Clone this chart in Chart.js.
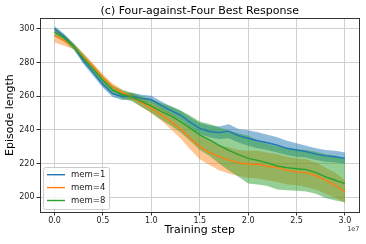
<!DOCTYPE html>
<html>
<head>
<meta charset="utf-8">
<script src="https://cdn.jsdelivr.net/npm/chart.js@4.4.1/dist/chart.umd.min.js"></script>
<style>
  html, body { margin: 0; padding: 0; background: #fff; }
  #wrap { width: 366px; height: 244px; }
</style>
</head>
<body>
<div id="wrap"><canvas id="lengthChart" width="366" height="244"></canvas></div>
<script>
// training steps, in units of 1e7
const steps = [0.0, 0.1, 0.2, 0.3, 0.4, 0.5, 0.6, 0.7, 0.8, 0.9, 1.0,
               1.1, 1.2, 1.3, 1.4, 1.5, 1.6, 1.7, 1.8, 1.9, 2.0,
               2.1, 2.2, 2.3, 2.4, 2.5, 2.6, 2.7, 2.8, 2.9, 3.0];

const mem1Mean  = [300.2, 295.5, 289.5, 281, 274, 267, 261.5, 259.8, 260, 258.7, 258,
                   254.5, 251.5, 248.8, 244.5, 240.8, 239, 238.3, 239.2, 236.5, 235,
                   233.5, 232.3, 230.8, 229, 228, 227, 225.5, 224.5, 224, 223];
const mem1Upper = [301.8, 297, 291, 283, 276, 269, 263.5, 261.8, 262, 260.8, 260.2,
                   257, 254, 251.5, 247.5, 244, 242.5, 242, 243.3, 240.5, 239.8,
                   238.5, 237, 235.5, 233.5, 232, 230.5, 229, 228, 227.5, 226.5];
const mem1Lower = [298.6, 294, 288, 279, 272, 265, 259.5, 257.8, 258, 256.6, 255.8,
                   252, 249, 246, 241.5, 237.5, 235.5, 234.5, 235, 232.5, 230.5,
                   229, 228, 226.5, 225, 224, 223.5, 222, 221, 220.5, 219.8];

const mem4Mean  = [296, 293, 289.5, 283.5, 277.5, 271, 265.5, 262, 259.5, 256, 252.8,
                   249, 245, 240.5, 235, 230, 226.5, 224, 222, 220.5, 219.5,
                   219.5, 218.3, 217.5, 216, 215, 214.5, 212.8, 210, 207, 203];
const mem4Upper = [299.5, 296, 291, 285.5, 279.5, 273, 267.5, 264, 261.5, 258.5, 255.8,
                   252.5, 249.5, 245.5, 241, 236.5, 233.5, 231, 229.5, 228, 227.5,
                   227.5, 226.3, 225.5, 224, 223, 222.5, 220.5, 217.5, 214.5, 210];
const mem4Lower = [292, 290, 288, 281.5, 275.5, 269, 263.5, 260, 257.5, 253.5, 249.8,
                   245.5, 240.5, 235, 228.5, 222.5, 219, 216, 214, 212.5, 211.5,
                   211, 210, 209, 207.5, 207, 206, 204.5, 202, 199.5, 196.5];

const mem8Mean  = [298.3, 294.5, 289.5, 282.5, 276, 269.5, 263.8, 261, 259.5, 256.7, 254.2,
                   251, 248.3, 245, 241, 237, 234, 230.8, 227.8, 225.2, 223,
                   221.8, 220.3, 218.5, 217.5, 216.8, 216.3, 214.5, 212, 210, 208];
const mem8Upper = [300.5, 296.5, 291.5, 285, 278.5, 272, 266.3, 263.5, 262, 260, 258.2,
                   255.8, 254, 251.5, 248.5, 245, 243.5, 241.5, 239.5, 238, 236.5,
                   233.5, 231.5, 230, 229, 228.5, 228, 227, 225.5, 224.5, 223];
const mem8Lower = [296, 292.5, 287.5, 280, 273.5, 267, 261.3, 258.5, 257, 253.5, 250.2,
                   246.2, 242.5, 238.5, 233.5, 228, 224.5, 220, 215.8, 212, 208,
                   207.5, 206.5, 204.5, 204, 203.8, 203.3, 202, 199.5, 198, 197];

const seriesNames = ['mem=1', 'mem=4', 'mem=8'];
const xTicks = [0.0, 0.5, 1.0, 1.5, 2.0, 2.5, 3.0];
const yTicks = [200, 220, 240, 260, 280, 300];

const colors = ['#1f77b4', '#ff7f0e', '#2ca02c'];
const bandColors = ['rgba(31,119,180,0.5)', 'rgba(255,127,14,0.45)', 'rgba(44,160,44,0.5)'];
const FONT = "'DejaVu Sans', sans-serif";

const toXY = arr => arr.map((v, i) => ({ x: steps[i], y: v }));

function bandPair(lower, upper, idx, order) {
    // lower edge is invisible, upper edge fills down to it
    return [
        { data: toXY(lower), borderWidth: 0, pointRadius: 0, fill: false, order: order },
        { data: toXY(upper), borderWidth: 0, pointRadius: 0, fill: '-1',
          backgroundColor: bandColors[idx], order: order }
    ];
}

function meanLine(values, idx, order) {
    return { label: seriesNames[idx], data: toXY(values), borderColor: colors[idx],
             borderWidth: 1.4, pointRadius: 0, fill: false, order: order };
}

// frame, offset text and legend drawn inside the axes like matplotlib
const decorations = {
    id: 'decorations',
    afterDraw(chart) {
        const ctx = chart.ctx;
        const a = chart.chartArea;
        ctx.save();
        ctx.strokeStyle = '#333';
        ctx.lineWidth = 1;
        ctx.strokeRect(Math.round(a.left) + 0.5, Math.round(a.top) + 0.5,
                       Math.round(a.right - a.left) - 1, Math.round(a.bottom - a.top));

        ctx.fillStyle = '#333';
        ctx.font = '6.5px ' + FONT;
        ctx.textAlign = 'right';
        ctx.textBaseline = 'middle';
        ctx.fillText('1e7', a.right, 229);

        // legend box
        const bx = 43, by = 167, bw = 66, bh = 42;
        ctx.fillStyle = 'rgba(255,255,255,0.8)';
        ctx.strokeStyle = '#cccccc';
        ctx.beginPath();
        ctx.roundRect(bx + 0.5, by + 0.5, bw, bh, 2);
        ctx.fill();
        ctx.stroke();

        ctx.font = '8.5px ' + FONT;
        ctx.textAlign = 'left';
        seriesNames.forEach((name, i) => {
            const y = 174.7 + i * 12.9;
            ctx.strokeStyle = colors[i];
            ctx.lineWidth = 1.4;
            ctx.beginPath();
            ctx.moveTo(47, y);
            ctx.lineTo(65, y);
            ctx.stroke();
            ctx.fillStyle = '#222';
            ctx.fillText(name, 71, y + 0.5);
        });
        ctx.restore();
    }
};

const datasets = [
    ...bandPair(mem1Lower, mem1Upper, 0, 5),
    ...bandPair(mem4Lower, mem4Upper, 1, 4),
    ...bandPair(mem8Lower, mem8Upper, 2, 3),
    meanLine(mem1Mean, 0, 2),
    meanLine(mem4Mean, 1, 1),
    meanLine(mem8Mean, 2, 0)
];

const ctx = document.getElementById('lengthChart').getContext('2d');
new Chart(ctx, {
    type: 'line',
    data: { datasets: datasets },
    options: {
        responsive: false,
        animation: false,
        layout: { padding: { right: 6.5 } },
        plugins: {
            legend: { display: false },
            tooltip: { enabled: false },
            title: {
                display: true,
                text: '(c) Four-against-Four Best Response',
                fullSize: false,
                color: '#000',
                font: { family: FONT, size: 11, weight: 'normal' },
                padding: { top: 5, bottom: 0 }
            }
        },
        scales: {
            x: {
                type: 'linear',
                min: -0.15,
                max: 3.15,
                afterFit(scale) { scale.height = 32; },
                afterBuildTicks(scale) { scale.ticks = xTicks.map(v => ({ value: v })); },
                ticks: {
                    color: '#222',
                    padding: 1,
                    maxRotation: 0,
                    font: { family: FONT, size: 8 },
                    callback: v => v.toFixed(1)
                },
                grid: { color: '#d0d0d0', lineWidth: 1, tickLength: 3.5, tickColor: '#333' },
                border: { display: true, color: '#333' },
                title: {
                    display: true,
                    text: 'Training step',
                    color: '#000',
                    font: { family: FONT, size: 11 },
                    padding: { top: 0, bottom: 7 }
                }
            },
            y: {
                min: 191.1,
                max: 306.4,
                afterFit(scale) { scale.width = 40; },
                afterBuildTicks(scale) { scale.ticks = yTicks.map(v => ({ value: v })); },
                ticks: {
                    color: '#222',
                    padding: 2,
                    font: { family: FONT, size: 8 },
                    callback: v => String(v)
                },
                grid: { color: '#d0d0d0', lineWidth: 1, tickLength: 3.5, tickColor: '#333' },
                border: { display: true, color: '#333' },
                title: {
                    display: true,
                    text: 'Episode length',
                    color: '#000',
                    font: { family: FONT, size: 11 },
                    padding: { top: 4, bottom: 0 }
                }
            }
        }
    },
    plugins: [decorations]
});
</script>
</body>
</html>
